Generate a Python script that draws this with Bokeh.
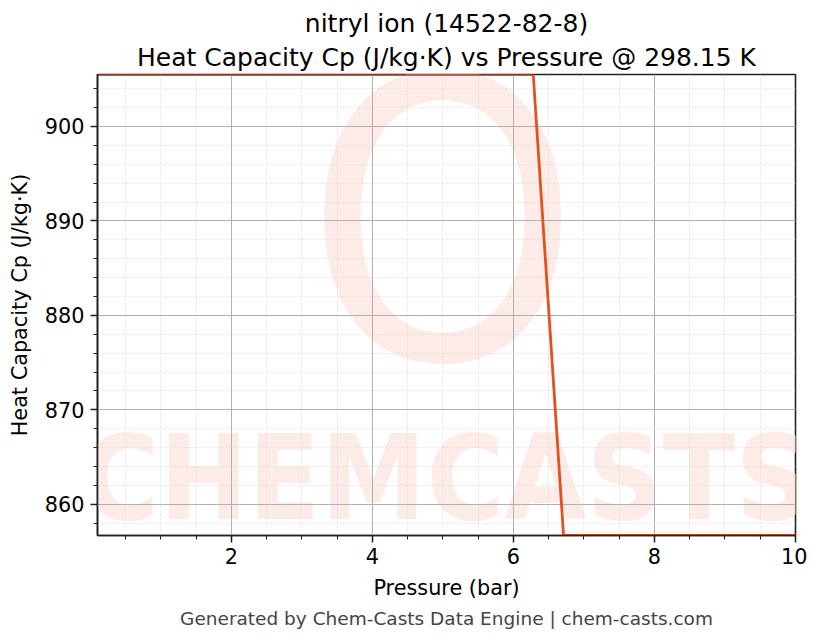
from bokeh.plotting import figure
from bokeh.models import Range1d, Label, Title, FixedTicker
from bokeh.embed import file_html
from bokeh.resources import INLINE

# data
pressure_bar = [0.1, 6.28, 6.71, 10.0]
cp_values = [905.5, 905.5, 856.7, 856.7]
x_ticks = [2, 4, 6, 8, 10]
y_ticks = [860, 870, 880, 890, 900]
title_line1 = "nitryl ion (14522-82-8)"
title_line2 = "Heat Capacity Cp (J/kg·K) vs Pressure @ 298.15 K"
x_label = "Pressure (bar)"
y_label = "Heat Capacity Cp (J/kg·K)"
footer = "Generated by Chem-Casts Data Engine | chem-casts.com"

FONT = "DejaVu Sans"

p = figure(width=807, height=632, output_backend="svg", toolbar_location=None,
           x_range=Range1d(0.1, 10.0), y_range=Range1d(856.7, 905.5),
           min_border_left=97, min_border_right=12, min_border_top=74, min_border_bottom=97)

p.title.text = title_line1
p.title.align = "center"
p.title.text_font = FONT
p.title.text_font_size = "25px"
p.title.text_font_style = "normal"
p.title.text_color = "black"
p.title.standoff = 0
p.add_layout(Title(text=title_line2, align="center", text_font=FONT, text_font_size="25px",
                   text_font_style="normal", text_color="black", standoff=6), "above")
p.add_layout(Title(text=footer, align="center", text_font=FONT, text_font_size="18.5px",
                   text_font_style="normal", text_color="#444444", standoff=7), "below")

# watermark
p.add_layout(Label(x=345, y=312, x_units="screen", y_units="screen", text="O",
                   text_font="DejaVu Sans Condensed", text_font_size="390px",
                   text_color="#fde8e4", text_alpha=0.85, text_align="center",
                   text_baseline="middle", level="image"))
p.add_layout(Label(x=349, y=58, x_units="screen", y_units="screen", text="CHEMCASTS",
                   text_font="DejaVu Sans Condensed", text_font_style="bold", text_font_size="118px",
                   text_color="#fde8e4", text_alpha=0.85, text_align="center",
                   text_baseline="middle", level="image"))

p.line(pressure_bar, cp_values, line_color="#E0521E", line_width=2.8)

p.outline_line_color = "#222222"
p.outline_line_width = 1.6
p.background_fill_color = "white"
p.border_fill_color = "white"

for ax, lab in ((p.xaxis[0], x_label), (p.yaxis[0], y_label)):
    ax.axis_label = lab
    ax.axis_label_text_font = FONT
    ax.axis_label_text_font_size = "20.8px"
    ax.axis_label_text_font_style = "normal"
    ax.axis_label_text_color = "black"
    ax.major_label_text_font = FONT
    ax.major_label_text_font_size = "20.8px"
    ax.major_label_text_color = "black"
    ax.axis_line_color = "#222222"
    ax.axis_line_width = 1.6
    ax.major_tick_line_color = "#222222"
    ax.major_tick_line_width = 1.5
    ax.minor_tick_line_color = "#222222"
    ax.minor_tick_line_width = 1.1
    ax.major_tick_in = 0
    ax.major_tick_out = 7
    ax.minor_tick_in = 0
    ax.minor_tick_out = 4

p.xaxis[0].ticker = FixedTicker(ticks=x_ticks, minor_ticks=[i * 0.5 for i in range(1, 21)])
p.yaxis[0].ticker = FixedTicker(ticks=y_ticks, minor_ticks=list(range(858, 906, 2)))
p.xaxis[0].axis_label_standoff = 9
p.yaxis[0].axis_label_standoff = 10
p.xaxis[0].major_label_standoff = 5
p.yaxis[0].major_label_standoff = 6

for g in (p.xgrid[0], p.ygrid[0]):
    g.grid_line_color = "#b0b0b0"
    g.grid_line_width = 1.0
    g.minor_grid_line_color = "#d8d8d8"
    g.minor_grid_line_width = 0.7
    g.minor_grid_line_dash = "2 2"

open("out.html", "w").write(file_html(p, INLINE))
